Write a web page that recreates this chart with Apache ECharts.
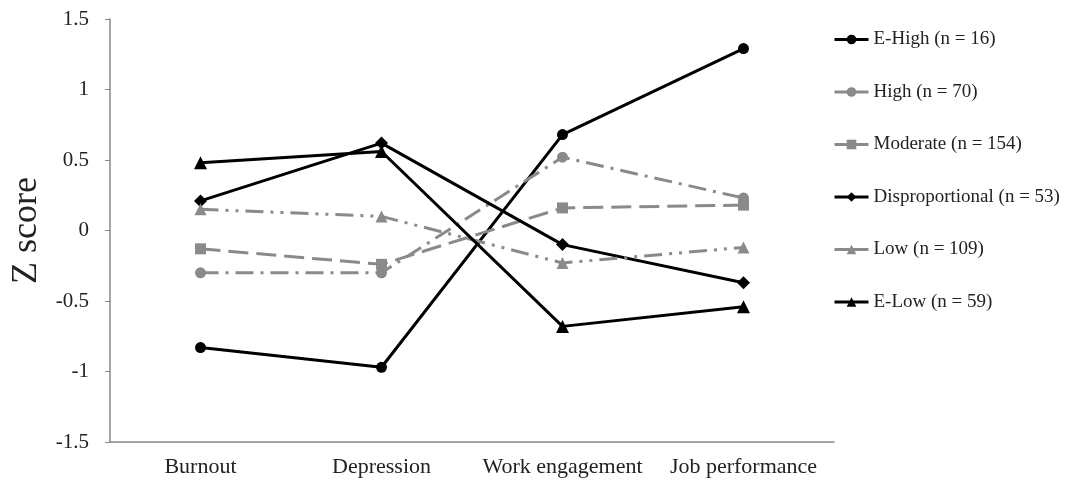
<!DOCTYPE html>
<html>
<head>
<meta charset="utf-8">
<script src="https://cdn.jsdelivr.net/npm/echarts@6/dist/echarts.min.js"></script>
<style>
  html, body { margin: 0; padding: 0; background: #fff; }
  #chart { width: 1077px; height: 489px; }
</style>
</head>
<body>
<div id="chart"></div>
<script>
var categories = ['Burnout', 'Depression', 'Work engagement', 'Job performance'];

var eHigh = [-0.83, -0.97, 0.68, 1.29];
var high = [-0.30, -0.30, 0.52, 0.23];
var moderate = [-0.13, -0.24, 0.16, 0.18];
var disproportional = [0.21, 0.62, -0.10, -0.37];
var low = [0.15, 0.10, -0.23, -0.12];
var eLow = [0.48, 0.56, -0.68, -0.54];

var names = ['E-High (n = 16)', 'High (n = 70)', 'Moderate (n = 154)',
  'Disproportional (n = 53)', 'Low (n = 109)', 'E-Low (n = 59)'];

var myChart = echarts.init(document.getElementById('chart'), null, { renderer: 'canvas' });

var font = 'Liberation Serif';
var gray = '#8a8a8a';

function line(name, data, color, symbol, size, dash) {
  return {
    name: name,
    type: 'line',
    data: data,
    symbol: symbol,
    symbolSize: size,
    itemStyle: { color: color },
    lineStyle: { color: color, width: 3, type: dash },
    emphasis: { disabled: true },
    animation: false
  };
}

var option = {
  backgroundColor: '#fff',
  grid: { left: 110, right: 243, top: 19, bottom: 47 },
  legend: {
    orient: 'vertical',
    left: 828,
    top: 25,
    itemWidth: 34,
    itemHeight: 12,
    itemGap: 33.5,
    lineStyle: { type: 'solid', width: 3 },
    textStyle: { fontFamily: font, fontSize: 19, color: '#222' },
    data: names
  },
  xAxis: {
    type: 'category',
    data: categories,
    boundaryGap: true,
    axisLine: { onZero: false, lineStyle: { color: '#888', width: 1.5 } },
    axisTick: { show: false },
    axisLabel: { interval: 0, fontFamily: font, fontSize: 22, color: '#222', margin: 14 }
  },
  yAxis: {
    type: 'value',
    min: -1.5,
    max: 1.5,
    interval: 0.5,
    name: 'Z score',
    nameLocation: 'middle',
    nameGap: 64,
    nameTextStyle: { fontFamily: font, fontSize: 36, color: '#222' },
    axisLine: { show: true, lineStyle: { color: '#888', width: 1.5 } },
    axisTick: { show: true, length: 5, lineStyle: { color: '#888' } },
    splitLine: { show: false },
    axisLabel: { fontFamily: font, fontSize: 21, color: '#222', margin: 21 }
  },
  series: [
    line(names[0], eHigh, '#000', 'circle', 11, 'solid'),
    line(names[1], high, gray, 'circle', 11, [18, 7, 3, 7]),
    line(names[2], moderate, gray, 'rect', 11, [20, 8]),
    line(names[3], disproportional, '#000', 'diamond', 13, 'solid'),
    line(names[4], low, gray, 'triangle', 12, [18, 7, 3, 7, 3, 7]),
    line(names[5], eLow, '#000', 'triangle', 13, 'solid')
  ]
};

myChart.setOption(option);
window.addEventListener('resize', myChart.resize);
</script>
</body>
</html>
